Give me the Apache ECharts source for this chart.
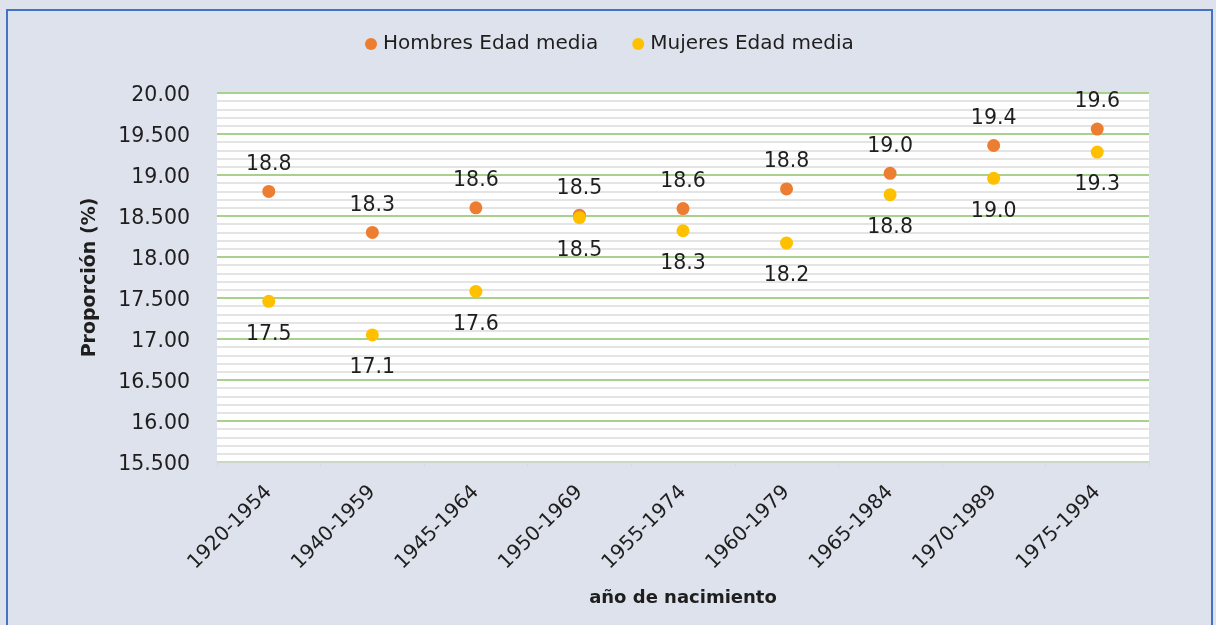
<!DOCTYPE html>
<html><head><meta charset="utf-8">
<script src="https://cdn.jsdelivr.net/npm/echarts@6/dist/echarts.min.js"></script>
<style>html,body{margin:0;padding:0;background:#dee2ec;}#c{width:1216px;height:625px;}</style>
</head><body><div id="c"></div>
<script>
const categories = ["1920-1954","1940-1959","1945-1964","1950-1969","1955-1974","1960-1979","1965-1984","1970-1989","1975-1994"];
const hombres = [18.80, 18.30, 18.60, 18.51, 18.59, 18.83, 19.02, 19.36, 19.56];
const mujeres = [17.46, 17.05, 17.58, 18.48, 18.32, 18.17, 18.76, 18.96, 19.28];
const yTickLabels = {"15.5":"15.500","16":"16.00","16.5":"16.500","17":"17.00","17.5":"17.500","18":"18.00","18.5":"18.500","19":"19.00","19.5":"19.500","20":"20.00"};
const seriesNames = ["Hombres Edad media","Mujeres Edad media"];

const FONT = "DejaVu Sans";
const TXT = '#1e1e1e';
const chart = echarts.init(document.getElementById('c'));
chart.setOption({
  backgroundColor: '#dee2ec',
  animation: false,
  textStyle: {fontFamily: FONT},
  graphic: [{
    type: 'rect', z: 100, silent: true,
    shape: {x: 7, y: 10, width: 1205, height: 625},
    style: {fill: 'none', stroke: '#4472c4', lineWidth: 2}
  }],
  legend: {
    top: 29, left: 360,
    itemWidth: 12, itemHeight: 12, itemGap: 34,
    icon: 'circle',
    textStyle: {fontFamily: FONT, fontSize: 20, color: TXT, padding: [0,0,0,1]},
    data: seriesNames
  },
  grid: {left: 217, right: 67, top: 93, bottom: 163, show: true, backgroundColor: '#ffffff', borderWidth: 0, containLabel: false},
  xAxis: {
    type: 'category', data: categories, boundaryGap: true,
    name: 'año de nacimiento', nameLocation: 'middle', nameGap: 127,
    nameTextStyle: {fontFamily: FONT, fontSize: 18, fontWeight: 'bold', color: TXT},
    axisLine: {show: true, lineStyle: {color: '#d9d9d9', width: 1.5}},
    axisTick: {show: true, length: 5, lineStyle: {color: '#d9d9d9'}},
    axisLabel: {rotate: 45, fontFamily: FONT, fontSize: 20, color: TXT, margin: 27, interval: 0},
    splitLine: {show: false}
  },
  yAxis: {
    type: 'value', min: 15.5, max: 20, interval: 0.5,
    name: 'Proporción (%)', nameLocation: 'middle', nameGap: 117, nameRotate: 90,
    nameTextStyle: {fontFamily: FONT, fontSize: 19, fontWeight: 'bold', color: TXT},
    axisLine: {show: false}, axisTick: {show: false},
    axisLabel: {fontFamily: FONT, fontSize: 20.5, color: TXT, margin: 27,
      formatter: v => '{t|' + (yTickLabels[String(Math.round(v*10)/10)] || String(v)) + '}',
      rich: {t: {fontFamily: FONT, fontSize: 20.5, color: TXT, padding: [6,0,0,0]}}},
    splitLine: {show: true, lineStyle: {color: '#a9d18e', width: 2}},
    minorTick: {show: false, splitNumber: 5},
    minorSplitLine: {show: true, lineStyle: {color: '#dcdcdc', width: 1.5}}
  },
  series: [
    {
      name: seriesNames[0], type: 'scatter', data: hombres, symbolSize: 13, z: 3,
      itemStyle: {color: '#ed7d31', opacity: 1},
      label: {show: true, position: 'top', distance: 10, fontFamily: FONT, fontSize: 20.5, color: TXT,
        formatter: p => p.value.toFixed(1)}
    },
    {
      name: seriesNames[1], type: 'scatter', data: mujeres, symbolSize: 13, z: 4,
      itemStyle: {color: '#ffc000', opacity: 1},
      label: {show: true, position: 'bottom', distance: 16, fontFamily: FONT, fontSize: 20.5, color: TXT,
        formatter: p => p.value.toFixed(1)}
    }
  ]
});
</script></body></html>
